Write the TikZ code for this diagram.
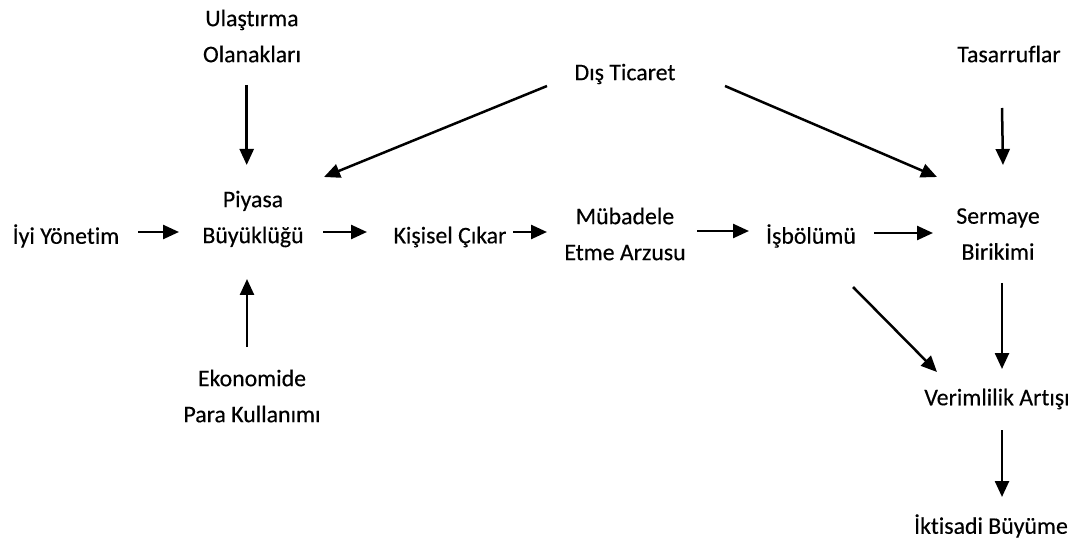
\documentclass[tikz,border=0pt]{standalone}
\usepackage{fontspec}
\setmainfont{Carlito}[FakeBold=0.3,Ligatures={TeX,NoCommon}]
\usetikzlibrary{arrows.meta,calc}
\begin{document}
\begin{tikzpicture}[x=1pt,y=-1pt,
  lbl/.style={inner sep=0pt,align=center,anchor=center,font=\fontsize{23.8}{36}\selectfont},
  arr/.style={line width=2.5pt,-{Triangle[length=16pt,width=14pt]}}]
\useasboundingbox[fill=white] (0,0) rectangle (1084,545);
% nodes
\node[lbl] (ulas) at (252,36) {Ulaştırma\\Olanakları};
\node[lbl] (piy) at (253,219) {Piyasa\\Büyüklüğü};
\node[lbl] (iyi) at (66,236) {İyi Yönetim};
\node[lbl] (kis) at (450,237) {Kişisel Çıkar};
\node[lbl] (mub) at (625,234) {Mübadele\\Etme Arzusu};
\node[lbl] (isb) at (811,236) {İşbölümü};
\node[lbl] (ser) at (998,234) {Sermaye\\Birikimi};
\node[lbl] (tas) at (1009,54) {Tasarruflar};
\node[lbl] (dis) at (625,74) {Dış Ticaret};
\node[lbl] (eko) at (252,396) {Ekonomide\\Para Kullanımı};
\node[lbl] (ver) at (997,399) {Verimlilik Artışı};
\node[lbl] (ikt) at (991,526) {İktisadi Büyüme};
% connectors
\draw[arr] ($(ulas)+(-5.3,49)$) -- ($(piy)+(-6.3,-54)$);
\draw[arr] ($(iyi)+(72,-4)$) -- ($(piy)+(-74,13)$);
\draw[arr] ($(eko)+(-5,-49)$) -- ($(piy)+(-6,60)$);
\draw[arr] ($(piy)+(70,13)$) -- ($(kis)+(-83,-5)$);
\draw[arr] ($(kis)+(63,-5)$) -- ($(mub)+(-78,-2)$);
\draw[arr] ($(mub)+(72,-3)$) -- ($(isb)+(-62,-5)$);
\draw[arr] ($(isb)+(63,-3)$) -- ($(ser)+(-65,-1)$);
\draw[arr] ($(dis)+(-78,12)$) -- ($(piy)+(71,-42)$);
\draw[arr] ($(dis)+(100,12)$) -- ($(ser)+(-61,-57)$);
\draw[arr] ($(tas)+(-7,54)$) -- ($(ser)+(5,-69)$);
\draw[arr] ($(isb)+(42,51)$) -- ($(ver)+(-60,-27)$);
\draw[arr] ($(ser)+(4,49)$) -- ($(ver)+(5,-30)$);
\draw[arr] ($(ver)+(5,31)$) -- ($(ikt)+(11,-29)$);
\end{tikzpicture}
\end{document}
